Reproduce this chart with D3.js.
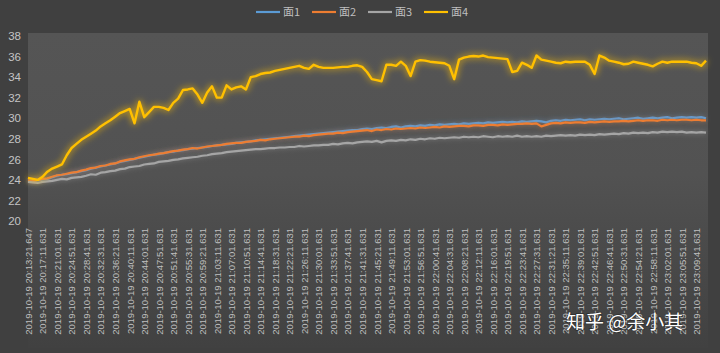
<!DOCTYPE html>
<html><head><meta charset="utf-8">
<script src="https://cdn.jsdelivr.net/npm/d3@7"></script>
<style>html,body{margin:0;padding:0;background:#404040;}svg{display:block;}</style>
</head><body>
<svg id="chart" width="720" height="353"></svg>
<script>
const seriesNames = ["面1","面2","面3","面4"];
const seriesColors = ["#5b9bd5","#ed7d31","#a5a5a5","#ffc000"];
const yTicks = [20,22,24,26,28,30,32,34,36,38];
const tickLabels = [
"2019-10-19 20:13:21.647","2019-10-19 20:17:11.631","2019-10-19 20:21:01.631","2019-10-19 20:24:51.631",
"2019-10-19 20:28:41.631","2019-10-19 20:32:31.631","2019-10-19 20:36:21.631","2019-10-19 20:40:11.631",
"2019-10-19 20:44:01.631","2019-10-19 20:47:51.631","2019-10-19 20:51:41.631","2019-10-19 20:55:31.631",
"2019-10-19 20:59:21.631","2019-10-19 21:03:11.631","2019-10-19 21:07:01.631","2019-10-19 21:10:51.631",
"2019-10-19 21:14:41.631","2019-10-19 21:18:31.631","2019-10-19 21:22:21.631","2019-10-19 21:26:11.631",
"2019-10-19 21:30:01.631","2019-10-19 21:33:51.631","2019-10-19 21:37:41.631","2019-10-19 21:41:31.631",
"2019-10-19 21:45:21.631","2019-10-19 21:49:11.631","2019-10-19 21:53:01.631","2019-10-19 21:56:51.631",
"2019-10-19 22:00:41.631","2019-10-19 22:04:31.631","2019-10-19 22:08:21.631","2019-10-19 22:12:11.631",
"2019-10-19 22:16:01.631","2019-10-19 22:19:51.631","2019-10-19 22:23:41.631","2019-10-19 22:27:31.631",
"2019-10-19 22:31:21.631","2019-10-19 22:35:11.631","2019-10-19 22:39:01.631","2019-10-19 22:42:51.631",
"2019-10-19 22:46:41.631","2019-10-19 22:50:31.631","2019-10-19 22:54:21.631","2019-10-19 22:58:11.631",
"2019-10-19 23:02:01.631","2019-10-19 23:05:51.631","2019-10-19 23:09:41.631"];
const pointsPerLabel = 3;

const s1 = [23.9,23.9,23.95,24.05,24.1,24.25,24.4,24.5,24.55,24.65,
24.75,24.85,24.95,25.1,25.2,25.3,25.4,25.5,25.6,25.75,
25.85,25.95,26.05,26.15,26.25,26.35,26.45,26.5,26.6,26.7,
26.75,26.85,26.9,27.0,27.05,27.1,27.15,27.2,27.3,27.35,
27.4,27.45,27.5,27.6,27.65,27.7,27.75,27.85,27.9,27.95,
28.0,28.05,28.1,28.15,28.2,28.25,28.3,28.35,28.4,28.45,
28.5,28.55,28.6,28.65,28.7,28.75,28.8,28.85,28.85,28.95,
29.0,28.95,29.05,29.1,29.05,29.15,29.2,29.1,29.2,29.25,
29.2,29.3,29.25,29.35,29.3,29.4,29.35,29.4,29.45,29.4,
29.5,29.45,29.5,29.55,29.5,29.6,29.55,29.6,29.65,29.6,
29.65,29.6,29.7,29.65,29.7,29.75,29.7,29.6,29.75,29.8,
29.75,29.85,29.8,29.85,29.9,29.8,29.9,29.85,29.9,29.95,
29.9,29.95,30.0,29.9,29.95,30.0,30.05,29.95,30.0,30.05,
30.0,30.05,30.1,30.0,30.05,30.1,30.05,30.1,30.05,30.1,
30.0];
const s2 = [23.95,23.9,24.0,24.1,24.15,24.3,24.45,24.5,24.6,24.7,
24.75,24.9,25.0,25.15,25.2,25.35,25.4,25.55,25.6,25.8,
25.9,26.0,26.05,26.2,26.3,26.4,26.45,26.55,26.6,26.7,
26.8,26.85,26.95,27.0,27.1,27.05,27.15,27.25,27.3,27.35,
27.4,27.5,27.55,27.6,27.6,27.7,27.75,27.8,27.9,27.85,
27.95,28.0,28.05,28.1,28.15,28.2,28.2,28.3,28.25,28.35,
28.4,28.45,28.5,28.5,28.6,28.55,28.65,28.7,28.75,28.8,
28.85,28.75,28.9,28.85,28.95,28.9,29.0,28.95,29.0,29.05,
29.0,29.1,29.05,29.1,29.15,29.1,29.2,29.15,29.2,29.25,
29.25,29.2,29.3,29.3,29.25,29.35,29.35,29.3,29.4,29.35,
29.4,29.45,29.45,29.5,29.45,29.5,29.2,29.35,29.5,29.55,
29.5,29.6,29.55,29.6,29.6,29.55,29.65,29.6,29.65,29.7,
29.65,29.7,29.7,29.75,29.7,29.75,29.8,29.75,29.8,29.8,
29.75,29.85,29.8,29.85,29.8,29.85,29.85,29.8,29.85,29.8,
29.8];
const s3 = [23.8,23.75,23.7,23.8,23.85,23.9,24.0,24.1,24.05,24.2,
24.25,24.3,24.4,24.55,24.5,24.7,24.75,24.85,24.9,25.05,
25.1,25.25,25.3,25.35,25.5,25.55,25.6,25.75,25.8,25.85,
25.95,26.0,26.1,26.15,26.2,26.25,26.35,26.4,26.5,26.55,
26.6,26.7,26.75,26.8,26.85,26.9,26.95,27.0,27.0,27.05,
27.1,27.1,27.15,27.15,27.2,27.2,27.3,27.25,27.3,27.35,
27.35,27.4,27.4,27.5,27.45,27.55,27.6,27.55,27.65,27.7,
27.75,27.7,27.8,27.65,27.8,27.85,27.8,27.9,27.85,27.95,
27.9,28.0,27.95,28.05,28.0,28.1,28.05,28.1,28.15,28.1,
28.2,28.15,28.2,28.15,28.25,28.2,28.15,28.25,28.2,28.25,
28.2,28.3,28.2,28.25,28.2,28.25,28.2,28.3,28.25,28.3,
28.35,28.3,28.35,28.3,28.4,28.35,28.4,28.35,28.45,28.4,
28.45,28.5,28.45,28.55,28.5,28.6,28.55,28.6,28.55,28.65,
28.6,28.7,28.65,28.7,28.65,28.7,28.6,28.65,28.6,28.65,
28.6];
const s4 = [24.2,24.1,24.0,24.3,24.8,25.1,25.3,25.5,26.4,27.1,
27.5,27.9,28.2,28.5,28.8,29.2,29.5,29.8,30.15,30.5,
30.7,30.9,29.5,31.6,30.1,30.6,31.1,31.1,31.0,30.8,
31.5,31.9,32.75,32.8,32.9,32.3,31.5,32.5,33.1,32.0,
32.0,33.2,32.8,33.0,33.1,32.8,34.0,34.1,34.3,34.4,
34.45,34.6,34.7,34.8,34.9,35.0,35.1,34.9,34.8,35.2,
35.0,34.9,34.9,34.9,34.95,35.0,35.0,35.1,35.15,35.0,
34.5,33.8,33.7,33.6,35.2,35.2,35.1,35.5,35.1,34.1,
35.5,35.65,35.6,35.5,35.45,35.4,35.35,35.1,33.8,35.7,
35.9,36.0,36.05,36.0,36.1,35.95,35.9,35.85,35.8,35.75,
34.5,34.6,35.4,35.2,34.9,36.1,35.7,35.6,35.5,35.4,
35.35,35.5,35.45,35.5,35.5,35.5,35.2,34.3,36.1,35.9,
35.6,35.5,35.4,35.25,35.3,35.5,35.4,35.3,35.2,35.05,
35.3,35.5,35.4,35.5,35.5,35.5,35.5,35.4,35.35,35.1,
35.6];
const allSeries = [s1,s2,s3,s4];

const svg = d3.select("#chart");
const W = 720, H = 353;
const plot = {left:28, right:706, top:36, bottom:221};

const defs = svg.append("defs");
const grad = defs.append("linearGradient").attr("id","bg").attr("x1",0).attr("y1",0).attr("x2",0).attr("y2",1);
grad.append("stop").attr("offset","0%").attr("stop-color","#555555");
grad.append("stop").attr("offset","45%").attr("stop-color","#525252");
grad.append("stop").attr("offset","65%").attr("stop-color","#4b4b4b");
grad.append("stop").attr("offset","100%").attr("stop-color","#414141");

seriesColors.forEach((c,k)=>{
  const f = defs.append("filter").attr("id","glow"+k).attr("x","-5%").attr("y","-40%").attr("width","110%").attr("height","180%");
  f.append("feGaussianBlur").attr("in","SourceGraphic").attr("stdDeviation", k===3?3.5:2.8).attr("result","b");
  f.append("feComponentTransfer").attr("in","b").attr("result","b2")
    .append("feFuncA").attr("type","linear").attr("slope", k===3?1.1:0.55);
  const m = f.append("feMerge");
  m.append("feMergeNode").attr("in","b2");
  m.append("feMergeNode").attr("in","SourceGraphic");
});

svg.append("rect").attr("x",0).attr("y",0).attr("width",W).attr("height",H).attr("fill","#404040");
svg.append("rect").attr("x",28).attr("y",33).attr("width",680).attr("height",315).attr("fill","url(#bg)");

const n = s1.length;
const x = d3.scaleLinear().domain([0, n-1]).range([plot.left, plot.right]);
const y = d3.scaleLinear().domain([20, 38]).range([plot.bottom, plot.top]);

// y axis
const yAxis = d3.axisLeft(y).tickValues(yTicks).tickSize(0).tickPadding(0);
const yg = svg.append("g").attr("transform","translate(21,0)").call(yAxis);
yg.select(".domain").remove();
yg.selectAll("text").attr("fill","#c4c4c4").style("font-family","'Liberation Sans', Arial, sans-serif").style("font-size","11.5px");

// x axis
const tickIdx = tickLabels.map((_,i)=>i*pointsPerLabel);
const xAxis = d3.axisBottom(x).tickValues(tickIdx).tickSize(0).tickPadding(0)
  .tickFormat((d)=>tickLabels[d/pointsPerLabel]);
const xg = svg.append("g").attr("transform","translate(0,228)").call(xAxis);
xg.select(".domain").remove();
xg.selectAll("text")
  .attr("fill","#bfbfbf")
  .style("font-family","'Liberation Sans', Arial, sans-serif")
  .style("font-size","9.5px")
  .attr("text-anchor","end")
  .attr("dy","0.35em")
  .attr("x",0).attr("y",0)
  .attr("transform","rotate(-90)");

// lines
const line = d3.line().x((d,i)=>x(i)).y(d=>y(d));
allSeries.forEach((s,k)=>{
  svg.append("path").datum(s)
    .attr("d", line)
    .attr("fill","none")
    .attr("stroke", seriesColors[k])
    .attr("stroke-width", k===3?2.4:2.2)
    .attr("stroke-linejoin","round")
    .attr("filter","url(#glow"+k+")");
});

// legend
const legX = [256, 312, 368, 424];
const lg = svg.append("g");
seriesNames.forEach((nm,k)=>{
  const g = lg.append("g").attr("transform",`translate(${legX[k]},12)`);
  g.append("line").attr("x1",0).attr("x2",24).attr("y1",0).attr("y2",0)
    .attr("stroke",seriesColors[k]).attr("stroke-width",2.2);
  g.append("text").attr("x",27).attr("y",0).attr("dy","0.35em")
    .attr("fill","#bfbfbf")
    .style("font-family","'Noto Sans CJK SC', 'Liberation Sans', sans-serif")
    .style("font-size","11px").text(nm);
});

// watermark
svg.append("text").attr("x",566).attr("y",329)
  .attr("fill","#ffffff")
  .style("font-family","'Noto Sans CJK SC', sans-serif")
  .style("font-size","19px")
  .style("paint-order","stroke")
  .attr("stroke","rgba(0,0,0,0.35)").attr("stroke-width",1.5)
  .text("知乎 @余小其");
</script>
</body></html>
